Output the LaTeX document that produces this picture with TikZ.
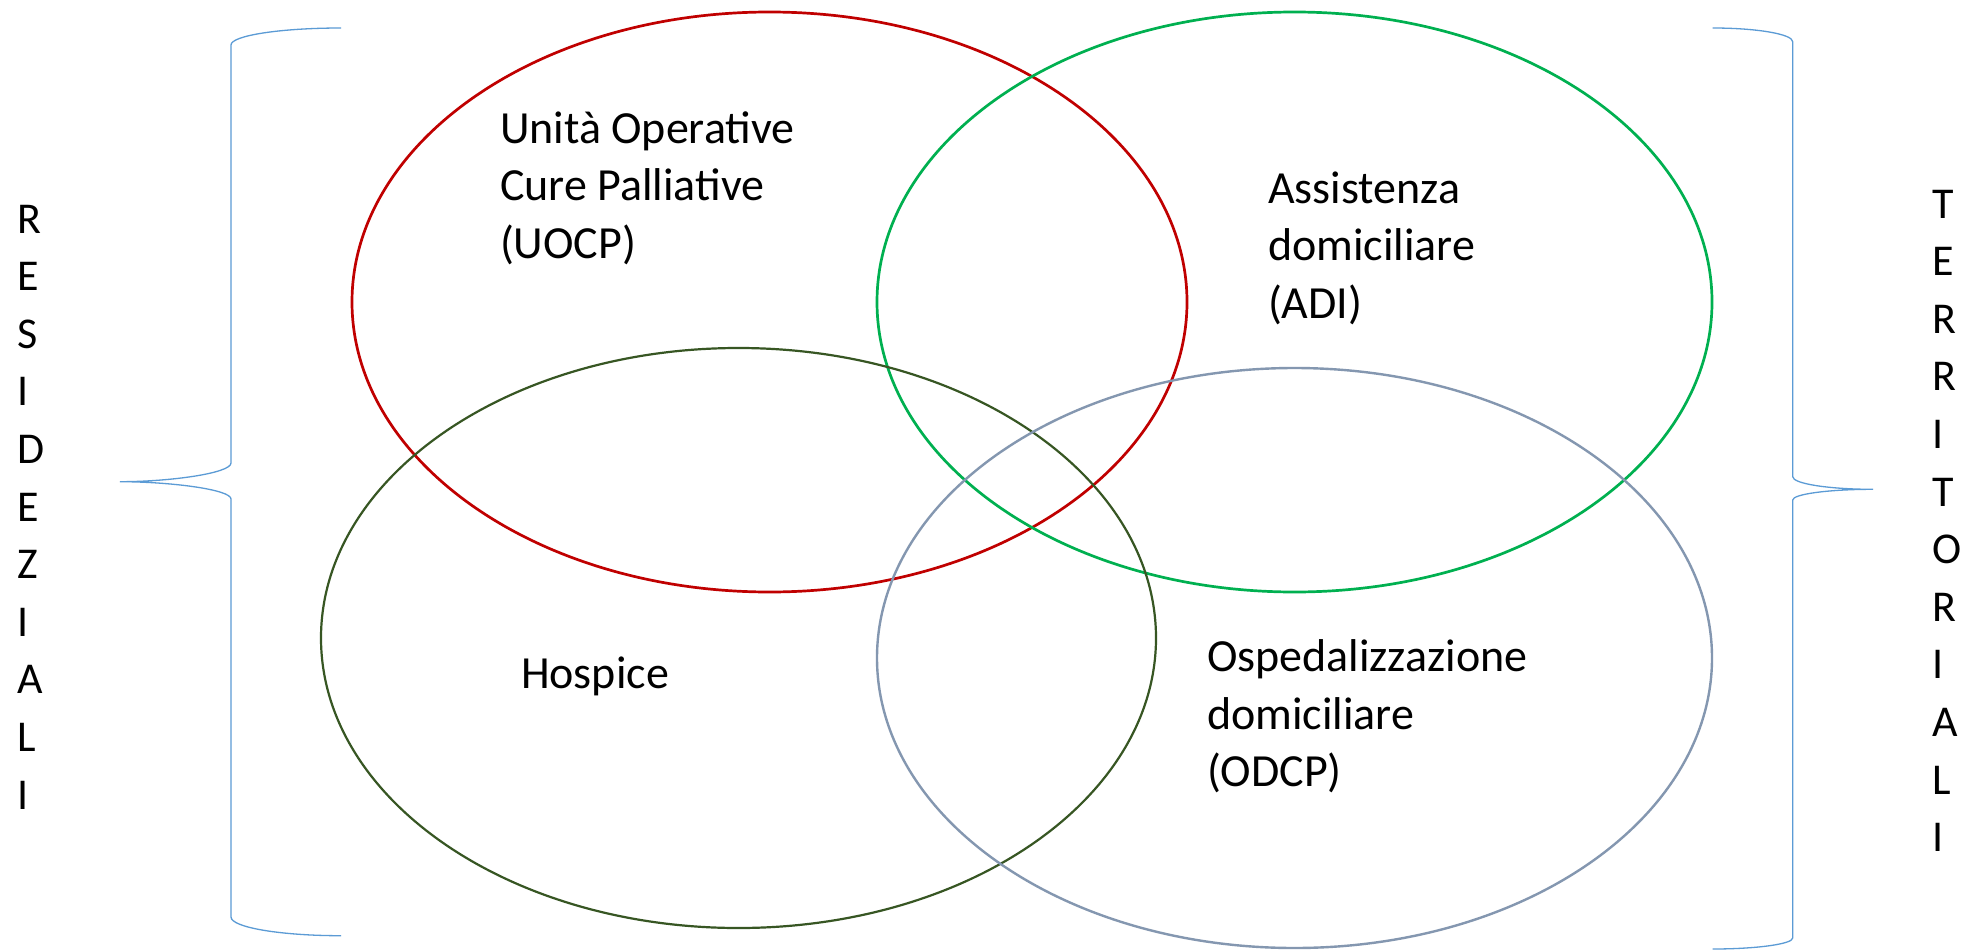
\documentclass[tikz,border=0pt]{standalone}
\usepackage{fontspec}
\setmainfont{Carlito}
\usetikzlibrary{shapes.geometric}
\definecolor{vred}{HTML}{C00000}
\definecolor{vgreen}{HTML}{00B050}
\definecolor{vdark}{HTML}{375623}
\definecolor{vgray}{HTML}{8497B0}
\definecolor{bracec}{HTML}{5B9BD5}
\begin{document}
\begin{tikzpicture}[x=1pt,y=-1pt,
  venn/.style={ellipse, minimum width=835pt, minimum height=580pt, inner sep=0pt, outer sep=0pt, draw},
  lbl/.style={anchor=base west, inner sep=0pt, outer sep=0pt, font=\fontsize{46}{57.5}\selectfont},
  vlet/.style={anchor=base west, inner sep=0pt, outer sep=0pt, font=\fontsize{44}{57.6}\selectfont},
  bracel/.style={draw=bracec, line width=1.3pt}]
\useasboundingbox[fill=white] (0,0) rectangle (1967,950);

% ellipses
\node[venn, draw=vred, line width=2.7pt] (uocpE) at (769.5,302) {};
\node[venn, draw=vgreen, line width=2.7pt] (adiE) at (1294.5,302) {};
\node[venn, draw=vdark, line width=2.2pt] (hospE) at (738.5,638) {};
\node[venn, draw=vgray, line width=2.4pt] (odcpE) at (1294.5,658) {};

% labels
\node[lbl] (uocp) at (500,143) {\begin{tabular}[t]{@{}l@{}}Unità Operative\\Cure Palliative\\(UOCP)\end{tabular}};
\node[lbl] (adi) at (1268,203) {\begin{tabular}[t]{@{}l@{}}Assistenza\\domiciliare\\(ADI)\end{tabular}};
\node[lbl] (hosp) at (521,688) {Hospice};
\node[lbl] (odcp) at (1207,671.7) {\begin{tabular}[t]{@{}l@{}}Ospedalizzazione\\domiciliare\\(ODCP)\end{tabular}};

% vertical words
\node[vlet] (resid) at (17,233) {\begin{tabular}[t]{@{}l@{}}R\\E\\S\\I\\D\\E\\Z\\I\\A\\L\\I\end{tabular}};
\node[vlet] (territ) at (1932,218) {\begin{tabular}[t]{@{}l@{}}T\\E\\R\\R\\I\\T\\O\\R\\I\\A\\L\\I\end{tabular}};

% left brace
\coordinate (lbTop) at (341,28);
\coordinate (lbTip) at (120,481.7);
\coordinate (lbBot) at (341,935.7);
\draw[bracel] (lbTop) .. controls (280.2,28) and (231,35.6) .. (231,45) -- (231,463)
  .. controls (231,473.3) and (169.7,481.7) .. (lbTip)
  .. controls (169.7,481.7) and (231,489.4) .. (231,499) -- (231,917)
  .. controls (231,927.3) and (280.2,935.7) .. (lbBot);

% right brace
\coordinate (rbTop) at (1712.5,28);
\coordinate (rbTip) at (1873,489.3);
\coordinate (rbBot) at (1712.5,949);
\draw[bracel] (rbTop) .. controls (1756.8,28) and (1792.7,34.1) .. (1792.7,41.7) -- (1792.7,476.7)
  .. controls (1792.7,483.7) and (1828.7,489.3) .. (rbTip)
  .. controls (1828.7,489.3) and (1792.7,494.1) .. (1792.7,500) -- (1792.7,938)
  .. controls (1792.7,944) and (1756.8,949) .. (rbBot);
\end{tikzpicture}
\end{document}
